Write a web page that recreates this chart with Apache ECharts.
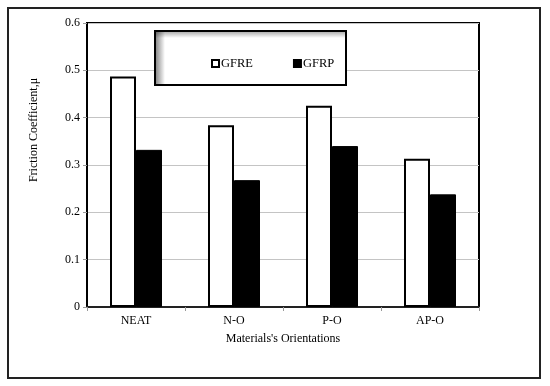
<!DOCTYPE html>
<html>
<head>
<meta charset="utf-8">
<script src="https://cdn.jsdelivr.net/npm/echarts@6/dist/echarts.min.js"></script>
<style>
html,body{margin:0;padding:0;background:#fff;}
#c{width:550px;height:386px;}
</style>
</head>
<body>
<div id="c"></div>
<script>
var categories = ['NEAT', 'N-O', 'P-O', 'AP-O'];
var gfre = [0.487, 0.384, 0.425, 0.313];
var gfrp = [0.332, 0.268, 0.340, 0.238];
var seriesNames = ['GFRE', 'GFRP'];
var yTitle = 'Friction Coefficient,μ';
var xTitle = "Materials's Orientations";

var font = '"Liberation Serif", "Times New Roman", serif';
var chart = echarts.init(document.getElementById('c'));
chart.setOption({
  animation: false,
  backgroundColor: '#fff',
  textStyle: { fontFamily: font },
  grid: { left: 87, right: 71, top: 23, bottom: 79, show: true, borderColor: '#000', borderWidth: 2, backgroundColor: 'transparent' },
  graphic: [
    { type: 'rect', z: -1, shape: { x: 8, y: 8, width: 532, height: 370 }, style: { fill: 'none', stroke: '#222', lineWidth: 2 } },
    { type: 'rect', z: 50, shape: { x: 155, y: 31, width: 191, height: 54 }, style: { fill: '#fff', stroke: '#000', lineWidth: 2 } },
    { type: 'rect', z: 51, shape: { x: 156, y: 32, width: 9, height: 52 }, style: { fill: new echarts.graphic.LinearGradient(0, 0, 1, 0, [{ offset: 0, color: 'rgba(0,0,0,0.45)' }, { offset: 1, color: 'rgba(0,0,0,0)' }]) } },
    { type: 'rect', z: 51, shape: { x: 156, y: 32, width: 189, height: 6 }, style: { fill: new echarts.graphic.LinearGradient(0, 0, 0, 1, [{ offset: 0, color: 'rgba(0,0,0,0.3)' }, { offset: 1, color: 'rgba(0,0,0,0)' }]) } },
    { type: 'text', x: 34, y: 130, rotation: Math.PI / 2, style: { text: yTitle, font: '12px ' + font, fill: '#000', align: 'center', verticalAlign: 'middle' } }
  ],
  legend: {
    z: 60,
    left: 206, top: 52,
    itemWidth: 7, itemHeight: 7, itemGap: 40,
    icon: 'rect',
    textStyle: { fontFamily: font, fontSize: 12.5, color: '#000', padding: [0, 0, 0, -3] },
    data: [
      { name: seriesNames[0], itemStyle: { color: '#fff', borderColor: '#000', borderWidth: 2 } },
      { name: seriesNames[1], itemStyle: { color: '#000' } }
    ]
  },
  xAxis: {
    type: 'category',
    data: categories,
    name: xTitle,
    nameLocation: 'middle',
    nameGap: 26,
    nameTextStyle: { fontFamily: font, fontSize: 12, color: '#000' },
    axisLine: { lineStyle: { color: '#222', width: 2 } },
    axisTick: { show: true, length: 4, lineStyle: { color: '#999' } },
    axisLabel: { fontFamily: font, fontSize: 12, color: '#000', margin: 8 }
  },
  yAxis: {
    type: 'value',
    min: 0, max: 0.6, interval: 0.1,
    axisLine: { show: true, lineStyle: { color: '#000', width: 2 } },
    axisTick: { show: true, length: 4, lineStyle: { color: '#999' } },
    axisLabel: { fontFamily: font, fontSize: 12, color: '#000', margin: 7 },
    splitLine: { lineStyle: { color: '#c4c4c4', width: 1 } }
  },
  series: [
    { name: seriesNames[0], type: 'bar', data: gfre, barWidth: 26, barGap: '0%',
      itemStyle: { color: '#fff', borderColor: '#000', borderWidth: 2 } },
    { name: seriesNames[1], type: 'bar', data: gfrp, barWidth: 26, barGap: '0%',
      itemStyle: { color: '#000', borderColor: '#000', borderWidth: 1 } }
  ]
});
</script>
</body>
</html>
